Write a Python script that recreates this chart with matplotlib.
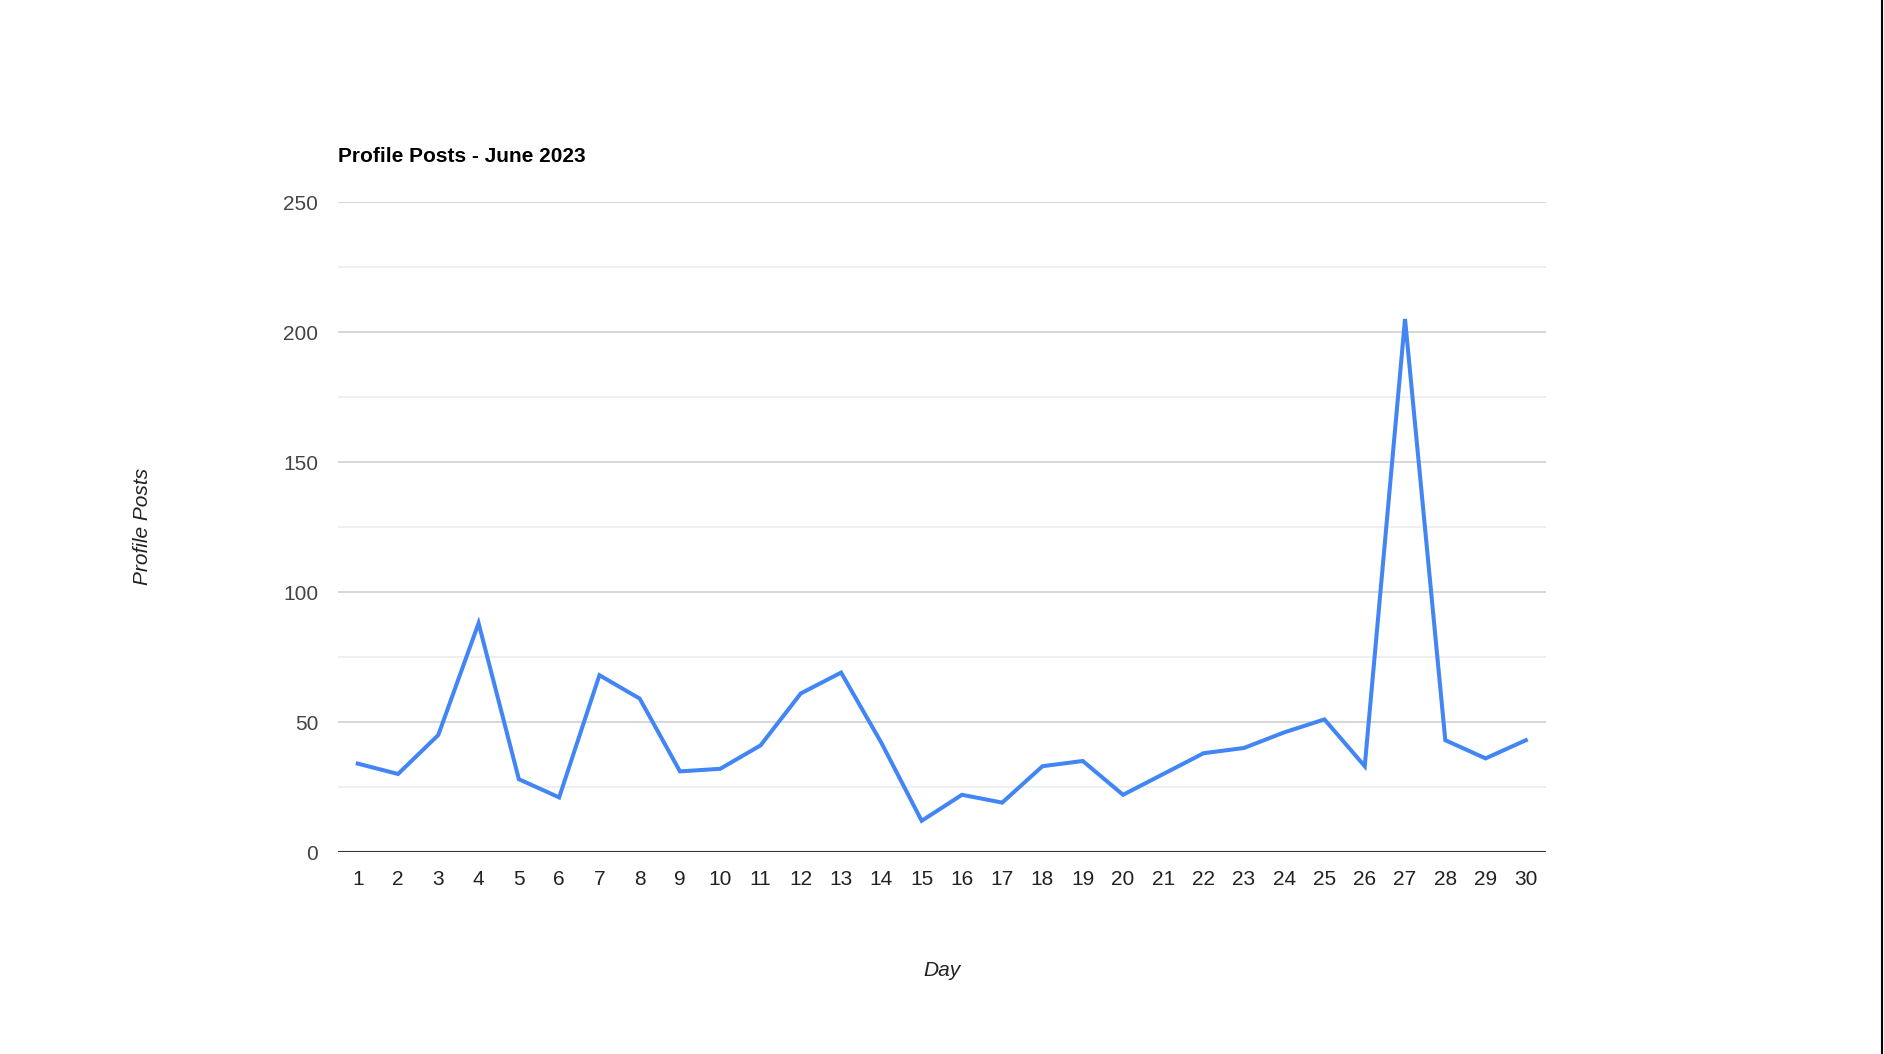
import matplotlib
matplotlib.use('Agg')
import matplotlib.pyplot as plt
from matplotlib.ticker import MultipleLocator

plt.rcParams['font.family'] = ['Liberation Sans', 'DejaVu Sans']

# data
days = list(range(1, 31))
posts = [34, 30, 45, 88, 28, 21, 68, 59, 31, 32,
         41, 61, 69, 42, 12, 22, 19, 33, 35, 22,
         30, 38, 40, 46, 51, 33, 205, 43, 36, 43]
y_ticks = [0, 50, 100, 150, 200, 250]

W, H = 1884, 1054
fig = plt.figure(figsize=(W / 100, H / 100), dpi=100)
left, right, top, bottom = 337.6, 1546, 202, 852
ax = fig.add_axes([left / W, 1 - bottom / H, (right - left) / W, (bottom - top) / H])

ax.plot(days, posts, color='#4285F4', linewidth=2.9, solid_joinstyle='miter', zorder=3)

ax.set_xlim(0.5, 30.5)
ax.set_ylim(0, 250)
ax.set_xticks(days)
ax.set_yticks(y_ticks)
ax.yaxis.set_minor_locator(MultipleLocator(25))
ax.grid(axis='y', which='major', color='#cccccc', linewidth=1.1)
ax.grid(axis='y', which='minor', color='#ebebeb', linewidth=1.1)
ax.set_axisbelow(True)
ax.axhline(0, color='#333333', linewidth=1.5, zorder=4)

for s in ax.spines.values():
    s.set_visible(False)
ax.tick_params(axis='both', which='both', length=0)
ax.tick_params(axis='y', labelsize=15, labelcolor='#444444', pad=14)
ax.tick_params(axis='x', labelsize=15, labelcolor='#222222', pad=13)

fig.text(left / W, 1 - 157 / H, 'Profile Posts - June 2023', fontsize=15,
         fontweight='bold', color='black', ha='left', va='center')
fig.text(942 / W, 1 - 970 / H, 'Day', fontsize=15, style='italic',
         color='#222222', ha='center', va='center')
fig.text(143 / W, 1 - 526 / H, 'Profile Posts', fontsize=15, style='italic',
         color='#222222', ha='center', va='center', rotation=90)

# thin border at the right edge of the screenshot
fig.add_artist(plt.Line2D([1882 / W, 1882 / W], [0, 1], color='black', linewidth=1.5))

fig.savefig('out.png', dpi=100, facecolor='white')
